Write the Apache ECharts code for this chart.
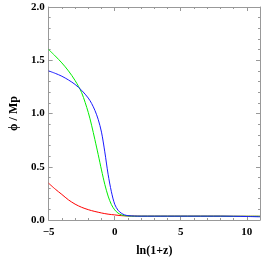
<!DOCTYPE html>
<html><head><meta charset="utf-8">
<script src="https://cdn.jsdelivr.net/npm/echarts@6/dist/echarts.min.js"></script>
<style>html,body{margin:0;padding:0;background:#fff}#c{width:263px;height:263px}</style>
</head><body><div id="c"></div>
<script>
var xs = [-5,-4.5,-4,-3.5,-3,-2.5,-2,-1.75,-1.5,-1.25,-1,-0.75,-0.5,-0.25,0,0.25,0.5,0.75,1,1.5,2,3,4,5,6,7,8,9,10,11];
var red   = [0.345,0.29,0.24,0.189,0.149,0.119,0.097,0.088,0.080,0.073,0.066,0.060,0.055,0.051,0.048,0.044,0.041,0.039,0.038,0.037,0.036,0.036,0.036,0.036,0.036,0.036,0.036,0.035,0.035,0.035];
var green = [1.60,1.54,1.475,1.40,1.31,1.195,1.01,0.89,0.755,0.615,0.47,0.335,0.225,0.145,0.095,0.065,0.049,0.041,0.038,0.036,0.036,0.036,0.036,0.036,0.036,0.036,0.036,0.035,0.035,0.035];
var blue  = [1.40,1.377,1.35,1.315,1.273,1.217,1.145,1.095,1.03,0.945,0.825,0.64,0.43,0.265,0.148,0.092,0.064,0.048,0.041,0.037,0.036,0.036,0.036,0.036,0.036,0.036,0.036,0.035,0.033,0.030];
var xTicks = [-5,0,5,10];
var yTicks = [0.0,0.5,1.0,1.5,2.0];

function pairs(ys){ return xs.map(function(x,i){ return [x, ys[i]]; }); }
var font = 'Liberation Serif';
var axColor = '#999';
function xa(pos, show){
  return {type:'value', position:pos, min:-5, max:11, interval:5,
    axisLine:{show:true, onZero:false, lineStyle:{color:axColor}},
    axisTick:{show:true, inside:true, length:4, lineStyle:{color:axColor}},
    minorTick:{show:true, splitNumber:5, length:2, lineStyle:{color:axColor}},
    splitLine:{show:false},
    axisLabel:{show:show, margin:7, color:'#000', fontFamily:font, fontWeight:'bold', fontSize:11,
      formatter:function(v){ return xTicks.indexOf(v)>=0 ? String(v).replace('-','\u2212') : ''; }},
    name: show ? 'ln(1+z)' : '', nameLocation:'middle', nameGap:25,
    nameTextStyle:{color:'#000', fontFamily:font, fontWeight:'bold', fontSize:12}};
}
function ya(pos, show){
  return {type:'value', position:pos, min:0, max:2, interval:0.5,
    axisLine:{show:true, onZero:false, lineStyle:{color:axColor}},
    axisTick:{show:true, inside:true, length:4, lineStyle:{color:axColor}},
    minorTick:{show:true, splitNumber:5, length:2, lineStyle:{color:axColor}},
    splitLine:{show:false},
    axisLabel:{show:show, margin:4, color:'#000', fontFamily:font, fontWeight:'bold', fontSize:11,
      formatter:function(v){ return v.toFixed(1); }},
    name: show ? '\u03D5 / Mp' : '', nameLocation:'middle', nameGap:26, nameRotate:90,
    nameTextStyle:{color:'#000', fontFamily:font, fontWeight:'bold', fontSize:12}};
}
var chart = echarts.init(document.getElementById('c'), null, {renderer:'canvas'});
function ser(name, ys, color){
  return {name:name, type:'line', data:pairs(ys), showSymbol:false, smooth:0.3,
    lineStyle:{color:color, width:1}, xAxisIndex:0, yAxisIndex:0, animation:false};
}
chart.setOption({
  animation:false,
  grid:{left:41, right:3, top:7, bottom:43},
  xAxis:[xa('bottom', true), xa('top', false)],
  yAxis:[ya('left', true), ya('right', false)],
  series:[ser('red', red, '#ff0000'), ser('green', green, '#00ee00'), ser('blue', blue, '#1a1aff')]
});
</script></body></html>
